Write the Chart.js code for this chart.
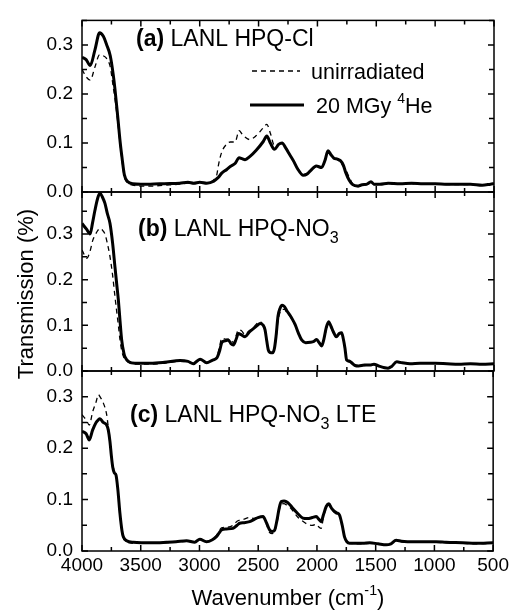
<!DOCTYPE html>
<html>
<head>
<meta charset="utf-8">
<script src="https://cdn.jsdelivr.net/npm/chart.js@4.4.1/dist/chart.umd.min.js"></script>
<style>
  html, body { margin: 0; padding: 0; background: #fff; }
  #wrap { position: relative; width: 512px; height: 610px; }
  #wrap canvas { position: absolute; left: 0; top: 0; }
</style>
</head>
<body>
<div id="wrap">
  <canvas id="panelA" width="512" height="610"></canvas>
  <canvas id="panelB" width="512" height="610"></canvas>
  <canvas id="panelC" width="512" height="610"></canvas>
</div>
<script>
// ---- data ----
// panel (a) LANL HPQ-Cl
const waveA = [4000, 3965, 3930, 3890, 3850, 3820, 3790, 3760, 3735, 3720, 3695, 3675, 3660, 3640, 3610, 3570, 3500, 3420, 3300, 3170, 3100, 3050, 3000, 2940, 2880, 2855, 2840, 2815, 2770, 2740, 2700, 2665, 2640, 2615, 2575, 2520, 2460, 2430, 2400, 2365, 2330, 2300, 2270, 2235, 2200, 2170, 2120, 2090, 2060, 2010, 1965, 1935, 1910, 1885, 1860, 1830, 1805, 1780, 1760, 1730, 1700, 1660, 1620, 1580, 1545, 1520, 1470, 1400, 1300, 1200, 1100, 1000, 900, 800, 700, 600, 530, 500];
const irrA = [0.275, 0.27, 0.258, 0.29, 0.325, 0.318, 0.30, 0.278, 0.24, 0.21, 0.15, 0.10, 0.07, 0.035, 0.021, 0.017, 0.016, 0.016, 0.017, 0.018, 0.02, 0.018, 0.02, 0.018, 0.022, 0.027, 0.03, 0.038, 0.046, 0.052, 0.058, 0.07, 0.068, 0.066, 0.072, 0.085, 0.103, 0.114, 0.1, 0.087, 0.097, 0.1, 0.09, 0.076, 0.062, 0.048, 0.034, 0.036, 0.043, 0.053, 0.05, 0.065, 0.084, 0.076, 0.069, 0.067, 0.064, 0.055, 0.04, 0.024, 0.015, 0.012, 0.015, 0.016, 0.021, 0.016, 0.016, 0.018, 0.017, 0.018, 0.017, 0.017, 0.016, 0.016, 0.016, 0.014, 0.016, 0.017];
const unirrA = [0.25, 0.235, 0.228, 0.255, 0.28, 0.278, 0.272, 0.255, 0.215, 0.19, 0.14, 0.095, 0.065, 0.03, 0.018, 0.014, 0.012, 0.012, 0.014, 0.016, 0.018, 0.017, 0.02, 0.019, 0.025, 0.035, 0.056, 0.08, 0.098, 0.102, 0.102, 0.125, 0.118, 0.112, 0.107, 0.115, 0.131, 0.138, 0.12, 0.095, 0.097, 0.1, 0.09, 0.076, 0.062, 0.048, 0.036, 0.038, 0.044, 0.052, 0.05, 0.063, 0.08, 0.075, 0.07, 0.066, 0.06, 0.052, 0.045, 0.03, 0.016, 0.011, 0.013, 0.015, 0.018, 0.015, 0.015, 0.016, 0.016, 0.017, 0.016, 0.016, 0.015, 0.015, 0.015, 0.014, 0.016, 0.017];

// panel (b) LANL HPQ-NO3
const waveB = [4000, 3960, 3932, 3910, 3890, 3865, 3847, 3825, 3805, 3785, 3762, 3740, 3720, 3705, 3691, 3677, 3663, 3645, 3635, 3600, 3550, 3420, 3300, 3167, 3100, 3054, 2997, 2941, 2890, 2856, 2830, 2813, 2785, 2757, 2735, 2714, 2690, 2672, 2645, 2615, 2580, 2544, 2510, 2488, 2460, 2445, 2430, 2417, 2395, 2380, 2365, 2352, 2335, 2318, 2300, 2280, 2260, 2233, 2210, 2190, 2160, 2134, 2100, 2060, 2030, 2006, 1985, 1964, 1945, 1925, 1905, 1885, 1865, 1840, 1815, 1794, 1780, 1766, 1752, 1730, 1709, 1680, 1650, 1600, 1553, 1520, 1480, 1430, 1400, 1370, 1326, 1280, 1213, 1128, 1000, 900, 800, 700, 600, 500];
const irrB = [0.323, 0.31, 0.30, 0.325, 0.352, 0.38, 0.389, 0.38, 0.367, 0.345, 0.323, 0.28, 0.228, 0.19, 0.155, 0.11, 0.068, 0.04, 0.031, 0.02, 0.017, 0.017, 0.019, 0.023, 0.021, 0.016, 0.026, 0.018, 0.024, 0.028, 0.045, 0.062, 0.066, 0.068, 0.06, 0.057, 0.07, 0.082, 0.079, 0.075, 0.085, 0.093, 0.1, 0.104, 0.1, 0.09, 0.065, 0.046, 0.04, 0.04, 0.05, 0.075, 0.12, 0.137, 0.144, 0.141, 0.132, 0.122, 0.112, 0.102, 0.082, 0.068, 0.062, 0.063, 0.065, 0.069, 0.062, 0.055, 0.07, 0.095, 0.108, 0.098, 0.086, 0.075, 0.082, 0.084, 0.07, 0.05, 0.024, 0.022, 0.018, 0.012, 0.011, 0.013, 0.013, 0.015, 0.011, 0.007, 0.006, 0.01, 0.02, 0.018, 0.016, 0.017, 0.017, 0.016, 0.015, 0.016, 0.015, 0.016];
const unirrB = [0.265, 0.247, 0.262, 0.285, 0.297, 0.308, 0.312, 0.308, 0.30, 0.28, 0.25, 0.21, 0.163, 0.13, 0.1, 0.068, 0.045, 0.03, 0.026, 0.018, 0.015, 0.015, 0.017, 0.021, 0.02, 0.016, 0.025, 0.018, 0.024, 0.03, 0.055, 0.072, 0.07, 0.07, 0.068, 0.062, 0.078, 0.09, 0.088, 0.08, 0.088, 0.095, 0.105, 0.108, 0.1, 0.09, 0.065, 0.046, 0.04, 0.04, 0.05, 0.07, 0.11, 0.128, 0.135, 0.135, 0.128, 0.12, 0.11, 0.1, 0.082, 0.068, 0.062, 0.063, 0.065, 0.069, 0.06, 0.055, 0.07, 0.09, 0.103, 0.095, 0.083, 0.075, 0.08, 0.082, 0.07, 0.05, 0.024, 0.02, 0.018, 0.012, 0.011, 0.012, 0.013, 0.014, 0.011, 0.008, 0.007, 0.01, 0.019, 0.017, 0.016, 0.017, 0.017, 0.016, 0.015, 0.015, 0.015, 0.016];

// panel (c) LANL HPQ-NO3 LTE
const waveC = [4000, 3965, 3938, 3910, 3880, 3861, 3847, 3819, 3790, 3776, 3762, 3750, 3739, 3725, 3711, 3695, 3677, 3660, 3649, 3620, 3564, 3400, 3281, 3200, 3110, 3040, 2997, 2941, 2890, 2856, 2830, 2813, 2770, 2714, 2680, 2658, 2620, 2573, 2530, 2502, 2459, 2430, 2403, 2380, 2361, 2340, 2320, 2304, 2280, 2262, 2230, 2205, 2160, 2120, 2080, 2040, 2006, 1985, 1964, 1945, 1920, 1899, 1875, 1851, 1830, 1808, 1785, 1766, 1745, 1723, 1650, 1610, 1550, 1480, 1411, 1370, 1326, 1280, 1156, 1050, 986, 900, 760, 650, 500];
const irrC = [0.233, 0.228, 0.216, 0.235, 0.25, 0.255, 0.257, 0.25, 0.245, 0.235, 0.213, 0.185, 0.164, 0.152, 0.148, 0.12, 0.073, 0.04, 0.028, 0.02, 0.017, 0.016, 0.017, 0.018, 0.02, 0.017, 0.023, 0.018, 0.022, 0.028, 0.036, 0.041, 0.043, 0.044, 0.05, 0.054, 0.055, 0.057, 0.062, 0.065, 0.067, 0.055, 0.041, 0.038, 0.04, 0.06, 0.085, 0.096, 0.097, 0.096, 0.09, 0.083, 0.072, 0.064, 0.063, 0.065, 0.067, 0.062, 0.057, 0.07, 0.087, 0.092, 0.083, 0.077, 0.074, 0.07, 0.05, 0.028, 0.018, 0.015, 0.015, 0.015, 0.016, 0.014, 0.012, 0.014, 0.021, 0.019, 0.018, 0.018, 0.018, 0.017, 0.016, 0.015, 0.016];
const unirrC = [0.265, 0.255, 0.245, 0.27, 0.29, 0.304, 0.3, 0.288, 0.265, 0.24, 0.21, 0.19, 0.17, 0.155, 0.15, 0.12, 0.07, 0.038, 0.026, 0.018, 0.015, 0.015, 0.016, 0.017, 0.019, 0.017, 0.023, 0.018, 0.022, 0.03, 0.04, 0.045, 0.046, 0.05, 0.058, 0.06, 0.062, 0.065, 0.063, 0.065, 0.066, 0.052, 0.036, 0.034, 0.038, 0.055, 0.08, 0.09, 0.092, 0.09, 0.085, 0.078, 0.065, 0.058, 0.052, 0.05, 0.052, 0.047, 0.044, 0.065, 0.084, 0.089, 0.08, 0.075, 0.071, 0.068, 0.05, 0.03, 0.02, 0.016, 0.014, 0.014, 0.015, 0.013, 0.012, 0.014, 0.02, 0.018, 0.017, 0.017, 0.017, 0.016, 0.015, 0.014, 0.015];

const yMaxA = 0.35, yMaxB = 0.392, yMaxC = 0.35;
const xTicks = [4000, 3500, 3000, 2500, 2000, 1500, 1000, 500];

// ---- layout ----
const FONT = "'Liberation Sans', Arial, sans-serif";
const PLOT_LEFT = 82, PLOT_RIGHT = 494, H = 610;

// write a run of text pieces: bold / subscript / superscript
function drawRich(ctx, x, y, parts, size) {
  ctx.textBaseline = 'alphabetic';
  ctx.textAlign = 'left';
  parts.forEach(p => {
    let s = size, dy = 0;
    if (p.sub) { s = size * 0.7; dy = size * 0.3; }
    if (p.sup) { s = size * 0.65; dy = -size * 0.45; }
    ctx.font = (p.b ? 'bold ' : '') + s + 'px ' + FONT;
    ctx.fillText(p.t, x, y + dy);
    x += ctx.measureText(p.t).width;
  });
  return x;
}

// frame plus inward major/minor ticks on all four sides
const framePlugin = {
  id: 'frame',
  afterDatasetsDraw(chart) {
    const { ctx, chartArea: a } = chart;
    const x = chart.scales.x, y = chart.scales.y;
    ctx.save();
    ctx.strokeStyle = '#000';
    ctx.lineWidth = 1.5;
    ctx.strokeRect(a.left, a.top, a.right - a.left, a.bottom - a.top);
    ctx.beginPath();
    for (let w = 500; w <= 4000; w += 250) {
      const px = x.getPixelForValue(w);
      const len = w % 500 === 0 ? 6 : 4;
      ctx.moveTo(px, a.bottom); ctx.lineTo(px, a.bottom - len);
      ctx.moveTo(px, a.top); ctx.lineTo(px, a.top + len);
    }
    for (let k = 0; k * 0.05 <= y.max + 1e-9; k++) {
      const py = y.getPixelForValue(k * 0.05);
      const len = k % 2 === 0 ? 6 : 5;
      ctx.moveTo(a.left, py); ctx.lineTo(a.left + len, py);
      ctx.moveTo(a.right, py); ctx.lineTo(a.right - len, py);
    }
    ctx.stroke();
    ctx.restore();
  }
};

function labelPlugin(drawFn) {
  return { id: 'labels', afterDraw(chart) { const ctx = chart.ctx; ctx.save(); ctx.fillStyle = '#000'; ctx.strokeStyle = '#000'; drawFn(ctx, chart); ctx.restore(); } };
}

function makePanel(id, wave, irr, unirr, yMax, top, bottom, showX, extra) {
  const ctx = document.getElementById(id).getContext('2d');
  return new Chart(ctx, {
    type: 'line',
    data: {
      datasets: [
        {
          label: 'unirradiated',
          data: wave.map((w, i) => ({ x: w, y: unirr[i] })),
          borderColor: '#000',
          borderWidth: 1.3,
          borderDash: [5, 4],
          pointRadius: 0,
          fill: false,
          cubicInterpolationMode: 'monotone'
        },
        {
          label: '20 MGy 4He',
          data: wave.map((w, i) => ({ x: w, y: irr[i] })),
          borderColor: '#000',
          borderWidth: 3,
          pointRadius: 0,
          fill: false,
          cubicInterpolationMode: 'monotone'
        }
      ]
    },
    options: {
      responsive: false,
      animation: false,
      layout: { padding: { left: 0, right: 512 - PLOT_RIGHT, top: top, bottom: 0 } },
      plugins: { legend: { display: false }, tooltip: { enabled: false } },
      scales: {
        x: {
          type: 'linear',
          reverse: true,
          min: 500,
          max: 4000,
          display: showX,
          grid: { display: false, drawTicks: false },
          border: { display: false },
          afterBuildTicks: s => { s.ticks = xTicks.map(v => ({ value: v })); },
          ticks: { color: '#000', font: { family: FONT, size: 19 }, padding: 3, maxRotation: 0, autoSkip: false, callback: v => String(v) },
          afterFit: s => { s.height = H - bottom; }
        },
        y: {
          min: 0,
          max: yMax,
          grid: { display: false, drawTicks: false },
          border: { display: false },
          ticks: {
            stepSize: 0.1,
            includeBounds: false,
            color: '#000',
            font: { family: FONT, size: 19 },
            padding: 9,
            callback: v => v.toFixed(1)
          },
          afterFit: s => { s.width = PLOT_LEFT; }
        }
      }
    },
    plugins: [framePlugin, labelPlugin(extra)]
  });
}

makePanel('panelA', waveA, irrA, unirrA, yMaxA, 13, 192, false, (ctx) => {
  drawRich(ctx, 136, 46, [{ t: '(a)', b: true }, { t: ' LANL HPQ-Cl' }], 23);
  // legend
  ctx.lineWidth = 1.3;
  ctx.setLineDash([5, 4]);
  ctx.beginPath(); ctx.moveTo(252, 71); ctx.lineTo(300, 71); ctx.stroke();
  ctx.setLineDash([]);
  ctx.lineWidth = 3;
  ctx.beginPath(); ctx.moveTo(250, 105); ctx.lineTo(304, 105); ctx.stroke();
  drawRich(ctx, 311, 79, [{ t: 'unirradiated' }], 21.5);
  drawRich(ctx, 316, 113, [{ t: '20 MGy ' }, { t: '4', sup: true }, { t: 'He' }], 21.5);
});

makePanel('panelB', waveB, irrB, unirrB, yMaxB, 192, 371, false, (ctx) => {
  drawRich(ctx, 138, 236, [{ t: '(b)', b: true }, { t: ' LANL HPQ-NO' }, { t: '3', sub: true }], 23);
});

makePanel('panelC', waveC, irrC, unirrC, yMaxC, 371, 551, true, (ctx) => {
  drawRich(ctx, 130, 422, [{ t: '(c)', b: true }, { t: ' LANL HPQ-NO' }, { t: '3', sub: true }, { t: ' LTE' }], 23);
  // axis titles
  ctx.font = '22px ' + FONT;
  const parts = [{ t: 'Wavenumber (cm' }, { t: '-1', sup: true }, { t: ')' }];
  const tmp = ctx.measureText('Wavenumber (cm').width + ctx.measureText(')').width;
  ctx.font = (22 * 0.65) + 'px ' + FONT;
  const w = tmp + ctx.measureText('-1').width;
  drawRich(ctx, 288 - w / 2, 605, parts, 22);
  ctx.save();
  ctx.translate(33, 294);
  ctx.rotate(-Math.PI / 2);
  ctx.font = '22px ' + FONT;
  ctx.textAlign = 'center';
  ctx.textBaseline = 'alphabetic';
  ctx.fillText('Transmission (%)', 0, 0);
  ctx.restore();
});
</script>
</body>
</html>
